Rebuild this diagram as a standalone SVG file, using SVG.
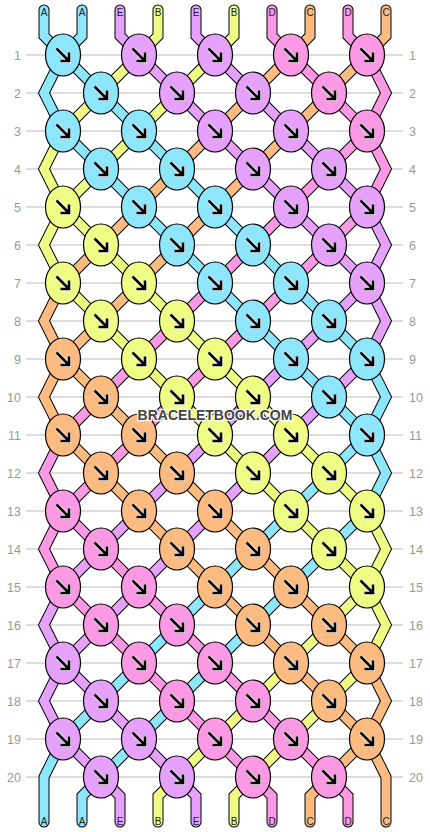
<svg xmlns="http://www.w3.org/2000/svg" xmlns:xlink="http://www.w3.org/1999/xlink" width="430" height="832" viewBox="0 0 430 832">
<style>
.bg{fill:#fff}
.rl{stroke:#bbb;stroke-width:1}
.rn{font-family:"Liberation Sans",Arial,sans-serif;font-size:12.5px;fill:#999}
.rnl{text-anchor:end}
.ol{fill:none;stroke:#000;stroke-width:11;stroke-linecap:round;stroke-linejoin:miter}
.th{fill:none;stroke-width:9;stroke-linecap:round;stroke-linejoin:miter}
.tA{stroke:#8ee6fc}.tB{stroke:#effd84}.tC{stroke:#fcbb81}.tD{stroke:#fb99e5}.tE{stroke:#e5a1fb}
.A{fill:#8ee6fc}.B{fill:#effd84}.C{fill:#fcbb81}.D{fill:#fb99e5}.E{fill:#e5a1fb}
.k{stroke:#000;stroke-width:1.2}
.ar{fill:none;stroke:#000;stroke-width:2.6}
.ah{fill:none;stroke:#fff;stroke-width:4;stroke-opacity:0.8}
.lb{font-family:"Liberation Sans",Arial,sans-serif;font-size:10px;fill:#222;text-anchor:middle}
.wm{font-family:"Liberation Sans",Arial,sans-serif;font-size:14px;font-weight:bold;fill:#444;stroke:#fff;stroke-width:2.5;paint-order:stroke;text-anchor:middle}
</style>
<defs>
<g id="arr"><path class="ah" d="M-6.5,-6.5 L6,6 M-2.5,6 H6 V-2.5"/><path class="ar" d="M-6.5,-6.5 L6,6 M-2.5,6 H6 V-2.5"/></g>
<path id="p0" d="M44,10 V36 L63,55 L367,359 L386,397 L367,435 L63,739 L44,777 V822"/>
<path id="p1" d="M82,10 V36 L63,55 L44,93 L63,131 L367,435 L386,473 L367,511 L101,777 L82,796 V822"/>
<path id="p2" d="M120,10 V36 L139,55 L367,283 L386,321 L367,359 L63,663 L44,701 L63,739 L101,777 L120,796 V822"/>
<path id="p3" d="M158,10 V36 L139,55 L63,131 L44,169 L63,207 L367,511 L386,549 L367,587 L177,777 L158,796 V822"/>
<path id="p4" d="M196,10 V36 L215,55 L367,207 L386,245 L367,283 L63,587 L44,625 L63,663 L177,777 L196,796 V822"/>
<path id="p5" d="M234,10 V36 L215,55 L63,207 L44,245 L63,283 L367,587 L386,625 L367,663 L253,777 L234,796 V822"/>
<path id="p6" d="M272,10 V36 L291,55 L367,131 L386,169 L367,207 L63,511 L44,549 L63,587 L253,777 L272,796 V822"/>
<path id="p7" d="M310,10 V36 L291,55 L63,283 L44,321 L63,359 L367,663 L386,701 L367,739 L329,777 L310,796 V822"/>
<path id="p8" d="M348,10 V36 L367,55 L386,93 L367,131 L63,435 L44,473 L63,511 L329,777 L348,796 V822"/>
<path id="p9" d="M386,10 V36 L367,55 L63,359 L44,397 L63,435 L367,739 L386,777 V822"/>
</defs>
<rect class="bg" x="0" y="0" width="430" height="832"/>
<g id="rows">
<line class="rl" x1="26" y1="55" x2="403" y2="55"/><line class="rl" x1="26" y1="93" x2="403" y2="93"/><line class="rl" x1="26" y1="131" x2="403" y2="131"/><line class="rl" x1="26" y1="169" x2="403" y2="169"/><line class="rl" x1="26" y1="207" x2="403" y2="207"/>
<line class="rl" x1="26" y1="245" x2="403" y2="245"/><line class="rl" x1="26" y1="283" x2="403" y2="283"/><line class="rl" x1="26" y1="321" x2="403" y2="321"/><line class="rl" x1="26" y1="359" x2="403" y2="359"/><line class="rl" x1="26" y1="397" x2="403" y2="397"/>
<line class="rl" x1="26" y1="435" x2="403" y2="435"/><line class="rl" x1="26" y1="473" x2="403" y2="473"/><line class="rl" x1="26" y1="511" x2="403" y2="511"/><line class="rl" x1="26" y1="549" x2="403" y2="549"/><line class="rl" x1="26" y1="587" x2="403" y2="587"/>
<line class="rl" x1="26" y1="625" x2="403" y2="625"/><line class="rl" x1="26" y1="663" x2="403" y2="663"/><line class="rl" x1="26" y1="701" x2="403" y2="701"/><line class="rl" x1="26" y1="739" x2="403" y2="739"/><line class="rl" x1="26" y1="777" x2="403" y2="777"/>
<text class="rn rnl" x="21" y="59.5">1</text><text class="rn rnl" x="21" y="97.5">2</text><text class="rn rnl" x="21" y="135.5">3</text><text class="rn rnl" x="21" y="173.5">4</text><text class="rn rnl" x="21" y="211.5">5</text>
<text class="rn rnl" x="21" y="249.5">6</text><text class="rn rnl" x="21" y="287.5">7</text><text class="rn rnl" x="21" y="325.5">8</text><text class="rn rnl" x="21" y="363.5">9</text><text class="rn rnl" x="21" y="401.5">10</text>
<text class="rn rnl" x="21" y="439.5">11</text><text class="rn rnl" x="21" y="477.5">12</text><text class="rn rnl" x="21" y="515.5">13</text><text class="rn rnl" x="21" y="553.5">14</text><text class="rn rnl" x="21" y="591.5">15</text>
<text class="rn rnl" x="21" y="629.5">16</text><text class="rn rnl" x="21" y="667.5">17</text><text class="rn rnl" x="21" y="705.5">18</text><text class="rn rnl" x="21" y="743.5">19</text><text class="rn rnl" x="21" y="781.5">20</text>
<text class="rn" x="409" y="59.5">1</text><text class="rn" x="409" y="97.5">2</text><text class="rn" x="409" y="135.5">3</text><text class="rn" x="409" y="173.5">4</text><text class="rn" x="409" y="211.5">5</text>
<text class="rn" x="409" y="249.5">6</text><text class="rn" x="409" y="287.5">7</text><text class="rn" x="409" y="325.5">8</text><text class="rn" x="409" y="363.5">9</text><text class="rn" x="409" y="401.5">10</text>
<text class="rn" x="409" y="439.5">11</text><text class="rn" x="409" y="477.5">12</text><text class="rn" x="409" y="515.5">13</text><text class="rn" x="409" y="553.5">14</text><text class="rn" x="409" y="591.5">15</text>
<text class="rn" x="409" y="629.5">16</text><text class="rn" x="409" y="667.5">17</text><text class="rn" x="409" y="705.5">18</text><text class="rn" x="409" y="743.5">19</text><text class="rn" x="409" y="781.5">20</text>
</g>
<g id="threads">
<use href="#p0" class="ol"/><use href="#p0" class="th tA"/>
<use href="#p1" class="ol"/><use href="#p1" class="th tA"/>
<use href="#p2" class="ol"/><use href="#p2" class="th tE"/>
<use href="#p3" class="ol"/><use href="#p3" class="th tB"/>
<use href="#p4" class="ol"/><use href="#p4" class="th tE"/>
<use href="#p5" class="ol"/><use href="#p5" class="th tB"/>
<use href="#p6" class="ol"/><use href="#p6" class="th tD"/>
<use href="#p7" class="ol"/><use href="#p7" class="th tC"/>
<use href="#p8" class="ol"/><use href="#p8" class="th tD"/>
<use href="#p9" class="ol"/><use href="#p9" class="th tC"/>
</g>
<g id="thread-labels">
<text class="lb" x="44" y="16">A</text><text class="lb" x="82" y="16">A</text><text class="lb" x="120" y="16">E</text><text class="lb" x="158" y="16">B</text><text class="lb" x="196" y="16">E</text><text class="lb" x="234" y="16">B</text><text class="lb" x="272" y="16">D</text><text class="lb" x="310" y="16">C</text><text class="lb" x="348" y="16">D</text><text class="lb" x="386" y="16">C</text>
<text class="lb" x="44" y="825">A</text><text class="lb" x="82" y="825">A</text><text class="lb" x="120" y="825">E</text><text class="lb" x="158" y="825">B</text><text class="lb" x="196" y="825">E</text><text class="lb" x="234" y="825">B</text><text class="lb" x="272" y="825">D</text><text class="lb" x="310" y="825">C</text><text class="lb" x="348" y="825">D</text><text class="lb" x="386" y="825">C</text>
</g>
<g id="knots">
<g id="k1-1" transform="translate(63,55)"><ellipse class="k A" rx="17.5" ry="21"/><use href="#arr"/></g>
<g id="k1-2" transform="translate(139,55)"><ellipse class="k E" rx="17.5" ry="21"/><use href="#arr"/></g>
<g id="k1-3" transform="translate(215,55)"><ellipse class="k E" rx="17.5" ry="21"/><use href="#arr"/></g>
<g id="k1-4" transform="translate(291,55)"><ellipse class="k D" rx="17.5" ry="21"/><use href="#arr"/></g>
<g id="k1-5" transform="translate(367,55)"><ellipse class="k D" rx="17.5" ry="21"/><use href="#arr"/></g>
<g id="k2-1" transform="translate(101,93)"><ellipse class="k A" rx="17.5" ry="21"/><use href="#arr"/></g>
<g id="k2-2" transform="translate(177,93)"><ellipse class="k E" rx="17.5" ry="21"/><use href="#arr"/></g>
<g id="k2-3" transform="translate(253,93)"><ellipse class="k E" rx="17.5" ry="21"/><use href="#arr"/></g>
<g id="k2-4" transform="translate(329,93)"><ellipse class="k D" rx="17.5" ry="21"/><use href="#arr"/></g>
<g id="k3-1" transform="translate(63,131)"><ellipse class="k A" rx="17.5" ry="21"/><use href="#arr"/></g>
<g id="k3-2" transform="translate(139,131)"><ellipse class="k A" rx="17.5" ry="21"/><use href="#arr"/></g>
<g id="k3-3" transform="translate(215,131)"><ellipse class="k E" rx="17.5" ry="21"/><use href="#arr"/></g>
<g id="k3-4" transform="translate(291,131)"><ellipse class="k E" rx="17.5" ry="21"/><use href="#arr"/></g>
<g id="k3-5" transform="translate(367,131)"><ellipse class="k D" rx="17.5" ry="21"/><use href="#arr"/></g>
<g id="k4-1" transform="translate(101,169)"><ellipse class="k A" rx="17.5" ry="21"/><use href="#arr"/></g>
<g id="k4-2" transform="translate(177,169)"><ellipse class="k A" rx="17.5" ry="21"/><use href="#arr"/></g>
<g id="k4-3" transform="translate(253,169)"><ellipse class="k E" rx="17.5" ry="21"/><use href="#arr"/></g>
<g id="k4-4" transform="translate(329,169)"><ellipse class="k E" rx="17.5" ry="21"/><use href="#arr"/></g>
<g id="k5-1" transform="translate(63,207)"><ellipse class="k B" rx="17.5" ry="21"/><use href="#arr"/></g>
<g id="k5-2" transform="translate(139,207)"><ellipse class="k A" rx="17.5" ry="21"/><use href="#arr"/></g>
<g id="k5-3" transform="translate(215,207)"><ellipse class="k A" rx="17.5" ry="21"/><use href="#arr"/></g>
<g id="k5-4" transform="translate(291,207)"><ellipse class="k E" rx="17.5" ry="21"/><use href="#arr"/></g>
<g id="k5-5" transform="translate(367,207)"><ellipse class="k E" rx="17.5" ry="21"/><use href="#arr"/></g>
<g id="k6-1" transform="translate(101,245)"><ellipse class="k B" rx="17.5" ry="21"/><use href="#arr"/></g>
<g id="k6-2" transform="translate(177,245)"><ellipse class="k A" rx="17.5" ry="21"/><use href="#arr"/></g>
<g id="k6-3" transform="translate(253,245)"><ellipse class="k A" rx="17.5" ry="21"/><use href="#arr"/></g>
<g id="k6-4" transform="translate(329,245)"><ellipse class="k E" rx="17.5" ry="21"/><use href="#arr"/></g>
<g id="k7-1" transform="translate(63,283)"><ellipse class="k B" rx="17.5" ry="21"/><use href="#arr"/></g>
<g id="k7-2" transform="translate(139,283)"><ellipse class="k B" rx="17.5" ry="21"/><use href="#arr"/></g>
<g id="k7-3" transform="translate(215,283)"><ellipse class="k A" rx="17.5" ry="21"/><use href="#arr"/></g>
<g id="k7-4" transform="translate(291,283)"><ellipse class="k A" rx="17.5" ry="21"/><use href="#arr"/></g>
<g id="k7-5" transform="translate(367,283)"><ellipse class="k E" rx="17.5" ry="21"/><use href="#arr"/></g>
<g id="k8-1" transform="translate(101,321)"><ellipse class="k B" rx="17.5" ry="21"/><use href="#arr"/></g>
<g id="k8-2" transform="translate(177,321)"><ellipse class="k B" rx="17.5" ry="21"/><use href="#arr"/></g>
<g id="k8-3" transform="translate(253,321)"><ellipse class="k A" rx="17.5" ry="21"/><use href="#arr"/></g>
<g id="k8-4" transform="translate(329,321)"><ellipse class="k A" rx="17.5" ry="21"/><use href="#arr"/></g>
<g id="k9-1" transform="translate(63,359)"><ellipse class="k C" rx="17.5" ry="21"/><use href="#arr"/></g>
<g id="k9-2" transform="translate(139,359)"><ellipse class="k B" rx="17.5" ry="21"/><use href="#arr"/></g>
<g id="k9-3" transform="translate(215,359)"><ellipse class="k B" rx="17.5" ry="21"/><use href="#arr"/></g>
<g id="k9-4" transform="translate(291,359)"><ellipse class="k A" rx="17.5" ry="21"/><use href="#arr"/></g>
<g id="k9-5" transform="translate(367,359)"><ellipse class="k A" rx="17.5" ry="21"/><use href="#arr"/></g>
<g id="k10-1" transform="translate(101,397)"><ellipse class="k C" rx="17.5" ry="21"/><use href="#arr"/></g>
<g id="k10-2" transform="translate(177,397)"><ellipse class="k B" rx="17.5" ry="21"/><use href="#arr"/></g>
<g id="k10-3" transform="translate(253,397)"><ellipse class="k B" rx="17.5" ry="21"/><use href="#arr"/></g>
<g id="k10-4" transform="translate(329,397)"><ellipse class="k A" rx="17.5" ry="21"/><use href="#arr"/></g>
<g id="k11-1" transform="translate(63,435)"><ellipse class="k C" rx="17.5" ry="21"/><use href="#arr"/></g>
<g id="k11-2" transform="translate(139,435)"><ellipse class="k C" rx="17.5" ry="21"/><use href="#arr"/></g>
<g id="k11-3" transform="translate(215,435)"><ellipse class="k B" rx="17.5" ry="21"/><use href="#arr"/></g>
<g id="k11-4" transform="translate(291,435)"><ellipse class="k B" rx="17.5" ry="21"/><use href="#arr"/></g>
<g id="k11-5" transform="translate(367,435)"><ellipse class="k A" rx="17.5" ry="21"/><use href="#arr"/></g>
<g id="k12-1" transform="translate(101,473)"><ellipse class="k C" rx="17.5" ry="21"/><use href="#arr"/></g>
<g id="k12-2" transform="translate(177,473)"><ellipse class="k C" rx="17.5" ry="21"/><use href="#arr"/></g>
<g id="k12-3" transform="translate(253,473)"><ellipse class="k B" rx="17.5" ry="21"/><use href="#arr"/></g>
<g id="k12-4" transform="translate(329,473)"><ellipse class="k B" rx="17.5" ry="21"/><use href="#arr"/></g>
<g id="k13-1" transform="translate(63,511)"><ellipse class="k D" rx="17.5" ry="21"/><use href="#arr"/></g>
<g id="k13-2" transform="translate(139,511)"><ellipse class="k C" rx="17.5" ry="21"/><use href="#arr"/></g>
<g id="k13-3" transform="translate(215,511)"><ellipse class="k C" rx="17.5" ry="21"/><use href="#arr"/></g>
<g id="k13-4" transform="translate(291,511)"><ellipse class="k B" rx="17.5" ry="21"/><use href="#arr"/></g>
<g id="k13-5" transform="translate(367,511)"><ellipse class="k B" rx="17.5" ry="21"/><use href="#arr"/></g>
<g id="k14-1" transform="translate(101,549)"><ellipse class="k D" rx="17.5" ry="21"/><use href="#arr"/></g>
<g id="k14-2" transform="translate(177,549)"><ellipse class="k C" rx="17.5" ry="21"/><use href="#arr"/></g>
<g id="k14-3" transform="translate(253,549)"><ellipse class="k C" rx="17.5" ry="21"/><use href="#arr"/></g>
<g id="k14-4" transform="translate(329,549)"><ellipse class="k B" rx="17.5" ry="21"/><use href="#arr"/></g>
<g id="k15-1" transform="translate(63,587)"><ellipse class="k D" rx="17.5" ry="21"/><use href="#arr"/></g>
<g id="k15-2" transform="translate(139,587)"><ellipse class="k D" rx="17.5" ry="21"/><use href="#arr"/></g>
<g id="k15-3" transform="translate(215,587)"><ellipse class="k C" rx="17.5" ry="21"/><use href="#arr"/></g>
<g id="k15-4" transform="translate(291,587)"><ellipse class="k C" rx="17.5" ry="21"/><use href="#arr"/></g>
<g id="k15-5" transform="translate(367,587)"><ellipse class="k B" rx="17.5" ry="21"/><use href="#arr"/></g>
<g id="k16-1" transform="translate(101,625)"><ellipse class="k D" rx="17.5" ry="21"/><use href="#arr"/></g>
<g id="k16-2" transform="translate(177,625)"><ellipse class="k D" rx="17.5" ry="21"/><use href="#arr"/></g>
<g id="k16-3" transform="translate(253,625)"><ellipse class="k C" rx="17.5" ry="21"/><use href="#arr"/></g>
<g id="k16-4" transform="translate(329,625)"><ellipse class="k C" rx="17.5" ry="21"/><use href="#arr"/></g>
<g id="k17-1" transform="translate(63,663)"><ellipse class="k E" rx="17.5" ry="21"/><use href="#arr"/></g>
<g id="k17-2" transform="translate(139,663)"><ellipse class="k D" rx="17.5" ry="21"/><use href="#arr"/></g>
<g id="k17-3" transform="translate(215,663)"><ellipse class="k D" rx="17.5" ry="21"/><use href="#arr"/></g>
<g id="k17-4" transform="translate(291,663)"><ellipse class="k C" rx="17.5" ry="21"/><use href="#arr"/></g>
<g id="k17-5" transform="translate(367,663)"><ellipse class="k C" rx="17.5" ry="21"/><use href="#arr"/></g>
<g id="k18-1" transform="translate(101,701)"><ellipse class="k E" rx="17.5" ry="21"/><use href="#arr"/></g>
<g id="k18-2" transform="translate(177,701)"><ellipse class="k D" rx="17.5" ry="21"/><use href="#arr"/></g>
<g id="k18-3" transform="translate(253,701)"><ellipse class="k D" rx="17.5" ry="21"/><use href="#arr"/></g>
<g id="k18-4" transform="translate(329,701)"><ellipse class="k C" rx="17.5" ry="21"/><use href="#arr"/></g>
<g id="k19-1" transform="translate(63,739)"><ellipse class="k E" rx="17.5" ry="21"/><use href="#arr"/></g>
<g id="k19-2" transform="translate(139,739)"><ellipse class="k E" rx="17.5" ry="21"/><use href="#arr"/></g>
<g id="k19-3" transform="translate(215,739)"><ellipse class="k D" rx="17.5" ry="21"/><use href="#arr"/></g>
<g id="k19-4" transform="translate(291,739)"><ellipse class="k D" rx="17.5" ry="21"/><use href="#arr"/></g>
<g id="k19-5" transform="translate(367,739)"><ellipse class="k C" rx="17.5" ry="21"/><use href="#arr"/></g>
<g id="k20-1" transform="translate(101,777)"><ellipse class="k E" rx="17.5" ry="21"/><use href="#arr"/></g>
<g id="k20-2" transform="translate(177,777)"><ellipse class="k E" rx="17.5" ry="21"/><use href="#arr"/></g>
<g id="k20-3" transform="translate(253,777)"><ellipse class="k D" rx="17.5" ry="21"/><use href="#arr"/></g>
<g id="k20-4" transform="translate(329,777)"><ellipse class="k D" rx="17.5" ry="21"/><use href="#arr"/></g>
</g>
<text class="wm" x="215" y="420">BRACELETBOOK.COM</text>
</svg>
